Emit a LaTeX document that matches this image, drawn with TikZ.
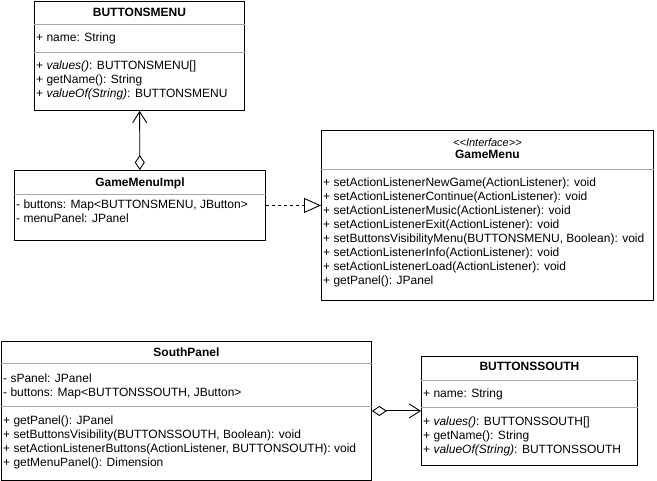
\documentclass[tikz,border=0pt]{standalone}
\usepackage{fontspec}
\setmainfont{Liberation Sans}
\usetikzlibrary{positioning,arrows.meta}
\definecolor{sepgray}{HTML}{A6A6A6}
\tikzset{
    cls/.style={draw, anchor=north west, inner sep=0pt, line width=0.9pt},
    title/.style={inner sep=0pt, text height=8.6pt, text depth=0pt, font=\fontsize{12}{14}\selectfont\bfseries},
    stereo/.style={inner sep=0pt, text height=7.9pt, text depth=0pt, font=\fontsize{11}{13}\selectfont\itshape},
    member/.style={inner sep=0pt, align=left, font=\fontsize{12}{14}\selectfont},
    sep/.style={draw=sepgray, line width=0.9pt},
    aggr/.style={line width=0.9pt, {Diamond[open, length=15pt, width=10pt]}-{Straight Barb[length=11pt, width=14pt]}},
    realize/.style={line width=0.9pt, dash pattern=on 3pt off 3pt, -{Triangle[open, length=17pt, width=15pt]}}
}
\begin{document}
\begin{tikzpicture}[x=1pt, y=-1pt]
                \useasboundingbox (0,0) rectangle (657,481);
                \node[cls, minimum width=210pt, minimum height=109pt] (menu) at (34,1) {};
                \draw[sep] ([yshift=-23pt]menu.north west) -- ([yshift=-23pt]menu.north east);
                \draw[sep] ([yshift=-51pt]menu.north west) -- ([yshift=-51pt]menu.north east);
                \node[title, below=6.7pt of menu.north] (menu-name) {BUTTONSMENU};
                \node[member, below right=30.2pt and 2pt of menu.north west] (menu-attr) {\strut+ name: String};
                \node[member, below right=58.2pt and 2pt of menu.north west] (menu-ops) {\strut+ \textit{values()}: BUTTONSMENU[]\\+ getName(): String\\+ \textit{valueOf(String)}: BUTTONSMENU};

                \node[cls, minimum width=251pt, minimum height=70pt] (impl) at (14,170) {};
                \draw[sep] ([yshift=-24pt]impl.north west) -- ([yshift=-24pt]impl.north east);
                \node[title, below=7.7pt of impl.north] (impl-name) {GameMenuImpl};
                \node[member, below right=28.2pt and 2pt of impl.north west] (impl-attr) {\strut- buttons: Map<BUTTONSMENU, JButton>\\- menuPanel: JPanel};

                \node[cls, minimum width=332pt, minimum height=170pt] (gmenu) at (321,130) {};
                \draw[sep] ([yshift=-39pt]gmenu.north west) -- ([yshift=-39pt]gmenu.north east);
                \node[stereo, below=8.1pt of gmenu.north] (gmenu-stereo) {{<}{<}Interface{>}{>}};
                \node[title, below=19.7pt of gmenu.north] (gmenu-name) {GameMenu};
                \node[member, below right=46.2pt and 2pt of gmenu.north west] (gmenu-ops) {\strut+ setActionListenerNewGame(ActionListener): void\\+ setActionListenerContinue(ActionListener): void\\+ setActionListenerMusic(ActionListener): void\\+ setActionListenerExit(ActionListener): void\\+ setButtonsVisibilityMenu(BUTTONSMENU, Boolean): void\\+ setActionListenerInfo(ActionListener): void\\+ setActionListenerLoad(ActionListener): void\\+ getPanel(): JPanel};

                \node[cls, minimum width=370pt, minimum height=139pt] (south) at (1,341) {};
                \draw[sep] ([yshift=-22pt]south.north west) -- ([yshift=-22pt]south.north east);
                \draw[sep] ([yshift=-65pt]south.north west) -- ([yshift=-65pt]south.north east);
                \node[title, below=6.7pt of south.north] (south-name) {SouthPanel};
                \node[member, below right=31.2pt and 2pt of south.north west] (south-attr) {\strut- sPanel: JPanel\\- buttons: Map<BUTTONSSOUTH, JButton>};
                \node[member, below right=73.2pt and 2pt of south.north west] (south-ops) {\strut+ getPanel(): JPanel\\+ setButtonsVisibility(BUTTONSSOUTH, Boolean): void\\+ setActionListenerButtons(ActionListener, BUTTONSOUTH): void\\+ getMenuPanel(): Dimension};

                \node[cls, minimum width=216pt, minimum height=109pt] (bsouth) at (421,356) {};
                \draw[sep] ([yshift=-24pt]bsouth.north west) -- ([yshift=-24pt]bsouth.north east);
                \draw[sep] ([yshift=-51pt]bsouth.north west) -- ([yshift=-51pt]bsouth.north east);
                \node[title, below=5.7pt of bsouth.north] (bsouth-name) {BUTTONSSOUTH};
                \node[member, below right=31.2pt and 2pt of bsouth.north west] (bsouth-attr) {\strut+ name: String};
                \node[member, below right=59.2pt and 2pt of bsouth.north west] (bsouth-ops) {\strut+ \textit{values()}: BUTTONSSOUTH[]\\+ getName(): String\\+ \textit{valueOf(String)}: BUTTONSSOUTH};

                \draw[aggr] (impl) -- (menu);
                \draw[realize] (impl.east) -- (impl.east -| gmenu.west);
                \draw[aggr] (south.east) -- (south.east -| bsouth.west);
\end{tikzpicture}
\end{document}
